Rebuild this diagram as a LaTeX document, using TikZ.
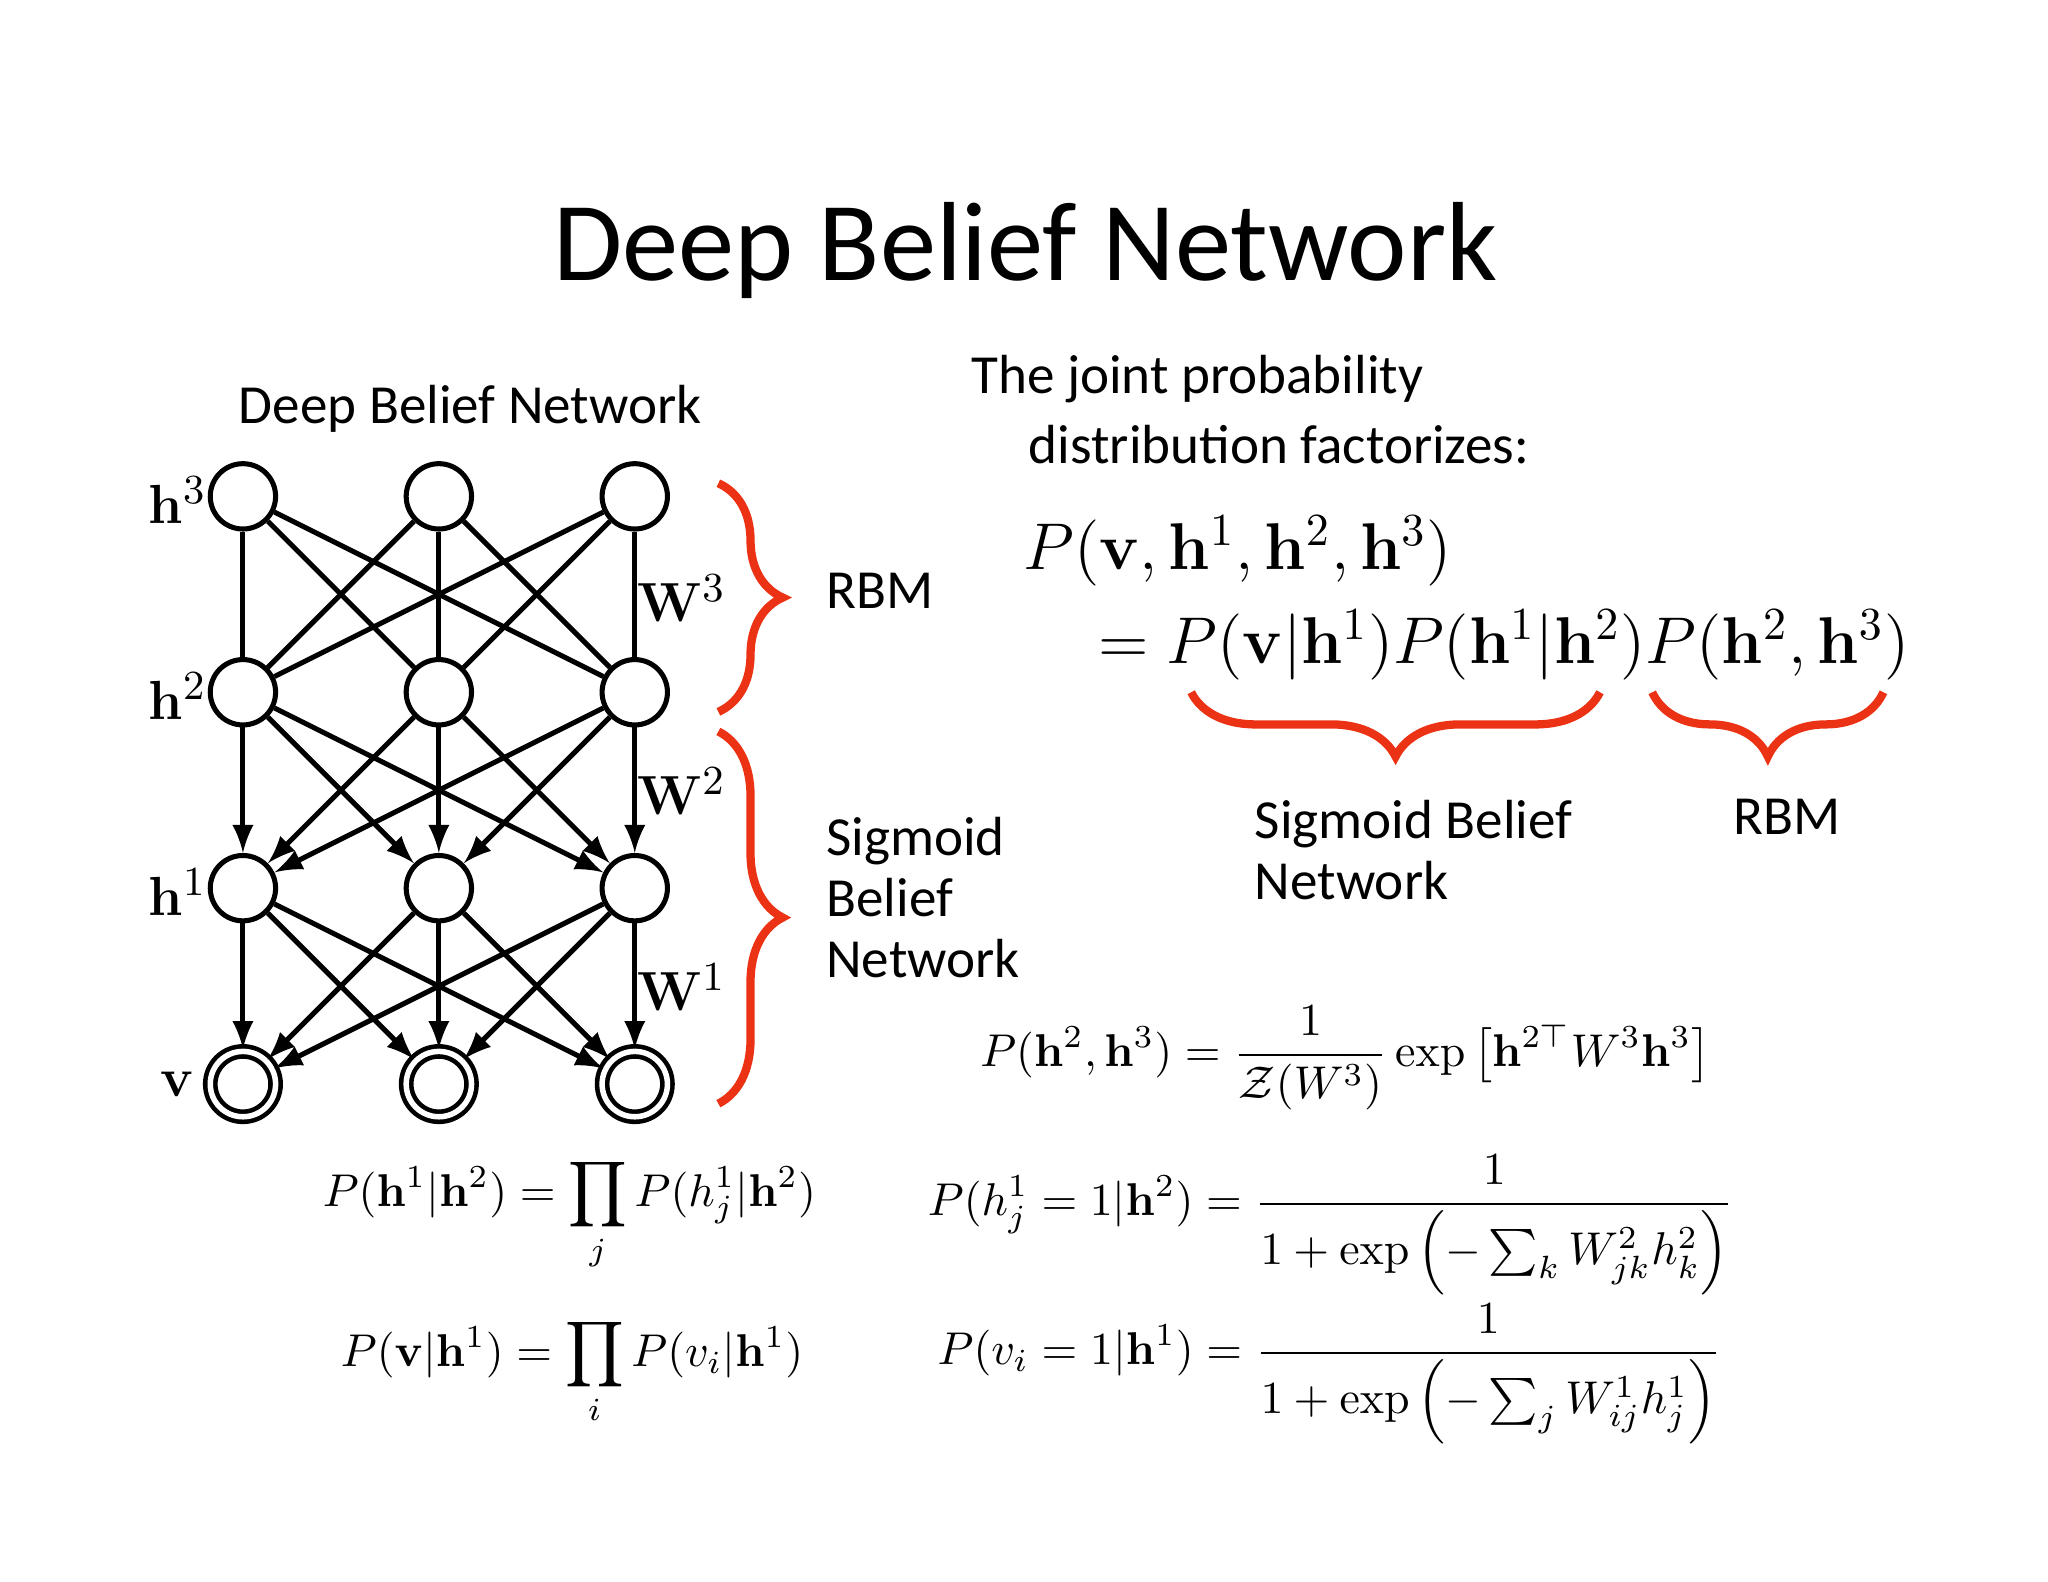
\documentclass[tikz,border=0pt]{standalone}
\usepackage{amsmath,amssymb}
\usepackage[no-math]{fontspec}
\setmainfont{Carlito}
\usetikzlibrary{decorations.pathreplacing}
\definecolor{bred}{RGB}{235,50,20}
\begin{document}
\begin{tikzpicture}[x=0.01cm,y=-0.01cm,
  unit/.style={circle,draw,line width=1.1pt,minimum size=0.5cm,inner sep=0pt},
  vis/.style={unit,double,double distance=1.2pt,line width=1pt},
  ud/.style={line width=1.1pt},
  ar/.style={line width=1.1pt,-latex},
  rb/.style={draw=bred,line width=1.8pt,decorate,decoration={brace,amplitude=14pt}},
  lab/.style={font=\fontsize{12}{13.3}\selectfont,inner sep=0pt},
  eq/.style={font=\fontsize{10}{12}\selectfont}]
\useasboundingbox (0,0) rectangle (1568,1211);
\node[font=\fontsize{24.5}{30}\selectfont] (title) at (785,192) {Deep Belief Network};
\node[lab] (sub) at (360,313) {Deep Belief Network};
\foreach \c/\x in {1/186,2/336,3/486}{
  \node[unit] (a\c) at (\x,380) {};
  \node[unit] (b\c) at (\x,530) {};
  \node[unit] (c\c) at (\x,680) {};
  \node[vis] (d\c) at (\x,830) {};
}
\foreach \i in {1,2,3}{\foreach \j in {1,2,3}{
  \draw[ud] (a\i) -- (b\j);
  \draw[ar] (b\i) -- (c\j);
  \draw[ar] (c\i) -- (d\j);
}}
\node[font=\fontsize{13}{15}\selectfont] (l3) at (136,383) {$\mathbf{h}^3$};
\node[font=\fontsize{13}{15}\selectfont] (l2) at (136,533) {$\mathbf{h}^2$};
\node[font=\fontsize{13}{15}\selectfont] (l1) at (136,683) {$\mathbf{h}^1$};
\node[font=\fontsize{13}{15}\selectfont] (l0) at (136,830) {$\mathbf{v}$};
\node[font=\fontsize{13}{15}\selectfont] (w3) at (522,458) {$\mathbf{W}^3$};
\node[font=\fontsize{13}{15}\selectfont] (w2) at (522,606) {$\mathbf{W}^2$};
\node[font=\fontsize{13}{15}\selectfont] (w1) at (522,756) {$\mathbf{W}^1$};
\draw[rb] (550,370) -- (550,545);
\draw[rb] (550,560) -- (550,845);
\node[lab,anchor=west] (rbm1) at (632,452) {RBM};
\node[lab,anchor=west,align=left] (sbn1) at (632,687) {Sigmoid\\Belief\\Network};
\node[lab,anchor=west] (t1) at (743,290) {The joint probability};
\node[lab,anchor=west] (t2) at (787,340) {distribution factorizes:};
\node[anchor=west,inner sep=0pt,font=\fontsize{14.5}{16}\selectfont] (e1) at (783,422) {$P(\mathbf{v},\mathbf{h}^1,\mathbf{h}^2,\mathbf{h}^3)$};
\node[anchor=west,inner sep=0pt,font=\fontsize{14.5}{16}\selectfont] (e2) at (840,494) {$=P(\mathbf{v}|\mathbf{h}^1)P(\mathbf{h}^1|\mathbf{h}^2)P(\mathbf{h}^2,\mathbf{h}^3)$};
\draw[rb,decoration={brace,amplitude=14pt,mirror}] (912,530) -- (1225,530);
\draw[rb,decoration={brace,amplitude=14pt,mirror}] (1265,530) -- (1442,530);
\node[lab,anchor=west,align=left] (sbn2) at (960,651) {Sigmoid Belief\\Network};
\node[lab] (rbm2) at (1368,625) {RBM};
\node[eq] (e3) at (1030,810) {$\displaystyle P(\mathbf{h}^2,\mathbf{h}^3)=\frac{1}{\mathcal{Z}(W^3)}\exp\left[\mathbf{h}^{2\top}W^3\mathbf{h}^3\right]$};
\node[eq] (e4) at (436,930) {$\displaystyle P(\mathbf{h}^1|\mathbf{h}^2)=\prod_j P(h^1_j|\mathbf{h}^2)$};
\node[eq] (e5) at (438,1050) {$\displaystyle P(\mathbf{v}|\mathbf{h}^1)=\prod_i P(v_i|\mathbf{h}^1)$};
\node[eq,font=\fontsize{10.2}{12}\selectfont] (e6) at (1019,938) {$\displaystyle P(h^1_j=1|\mathbf{h}^2)=\frac{1}{1+\exp\left(-\sum_k W^2_{jk}h^2_k\right)}$};
\node[eq,font=\fontsize{10.2}{12}\selectfont] (e7) at (1018,1052) {$\displaystyle P(v_i=1|\mathbf{h}^1)=\frac{1}{1+\exp\left(-\sum_j W^1_{ij}h^1_j\right)}$};
\end{tikzpicture}
\end{document}
